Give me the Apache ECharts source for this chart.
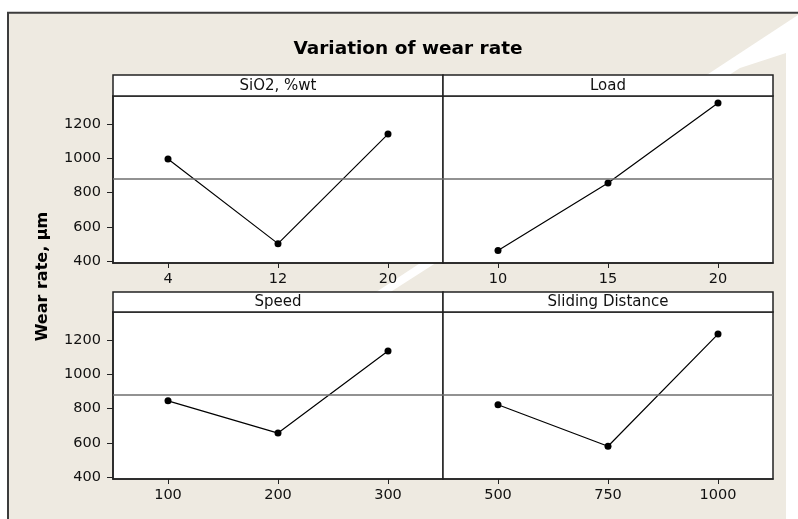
<!DOCTYPE html>
<html><head><meta charset="utf-8">
<script src="https://cdn.jsdelivr.net/npm/echarts@6/dist/echarts.min.js"></script>
<style>html,body{margin:0;padding:0;background:#fff}#c{width:798px;height:519px}</style>
</head><body><div id="c"></div>
<script>
// ---- data ----
const chartTitle = 'Variation of wear rate';
const yAxisTitle = 'Wear rate, µm';
const factorNames = ['SiO2, %wt', 'Load', 'Speed', 'Sliding Distance'];
const sio2Levels = ['4', '12', '20'];
const sio2Means = [996, 502, 1141];
const loadLevels = ['10', '15', '20'];
const loadMeans = [462, 856, 1322];
const speedLevels = ['100', '200', '300'];
const speedMeans = [845, 657, 1136];
const distLevels = ['500', '750', '1000'];
const distMeans = [822, 580, 1234];
const yTicks = [400, 600, 800, 1000, 1200];
const yMin = 389, yMax = 1363;

const levelsList = [sio2Levels, loadLevels, speedLevels, distLevels];
const meansList = [sio2Means, loadMeans, speedMeans, distMeans];
const allVals = [].concat(sio2Means, loadMeans, speedMeans, distMeans);
const grandMean = allVals.reduce((a, b) => a + b, 0) / allVals.length;

// ---- layout ----
const FONT = '"DejaVu Sans", Verdana, sans-serif';
const panels = [
  { left: 113, top: 96, hTop: 75 },
  { left: 443, top: 96, hTop: 75 },
  { left: 113, top: 312, hTop: 292 },
  { left: 443, top: 312, hTop: 292 }
];
const PW = 330, PH = 167;
const beige = '#EEEAE1';

const grids = [], xAxes = [], yAxes = [], series = [], graphics = [];

// background
graphics.push({ type: 'rect', z: -10, shape: { x: 8, y: 13, width: 790, height: 506 }, style: { fill: beige } });
graphics.push({ type: 'rect', z: -9, shape: { x: 786, y: 53, width: 12, height: 466 }, style: { fill: '#ffffff' } });
graphics.push({ type: 'polygon', z: -9, shape: { points: [[798, 15], [798, 53], [786, 53], [740, 68], [378, 300], [364, 300]] }, style: { fill: '#ffffff' } });
graphics.push({ type: 'line', z: 5, shape: { x1: 7, y1: 12.8, x2: 798, y2: 12.8 }, style: { stroke: '#3c3c3c', lineWidth: 2 } });
graphics.push({ type: 'line', z: 5, shape: { x1: 8, y1: 12, x2: 8, y2: 519 }, style: { stroke: '#3c3c3c', lineWidth: 2 } });

// title
graphics.push({ type: 'text', z: 5, x: 408, y: 49.5, style: { text: chartTitle, font: 'bold 18.5px ' + FONT, fill: '#000', textAlign: 'center', textVerticalAlign: 'middle', align: 'center', verticalAlign: 'middle' } });
// y title
graphics.push({ type: 'text', z: 5, x: 43, y: 276.5, rotation: Math.PI / 2, style: { text: yAxisTitle, font: 'bold 16px ' + FONT, fill: '#000', textAlign: 'center', textVerticalAlign: 'middle', align: 'center', verticalAlign: 'middle' } });

panels.forEach((p, i) => {
  const hH = p.top - p.hTop;
  graphics.push({ type: 'rect', z: 5, shape: { x: p.left, y: p.hTop, width: PW, height: hH }, style: { fill: '#ffffff', stroke: '#222', lineWidth: 1.5 } });
  graphics.push({ type: 'text', z: 6, x: p.left + PW / 2, y: p.hTop + hH / 2 + 0.5, style: { text: factorNames[i], font: '15px ' + FONT, fill: '#111', textAlign: 'center', textVerticalAlign: 'middle', align: 'center', verticalAlign: 'middle' } });

  grids.push({ left: p.left, top: p.top, width: PW, height: PH, show: true, backgroundColor: '#ffffff', borderColor: '#222', borderWidth: 1.5, containLabel: false });
  xAxes.push({
    type: 'category', gridIndex: i, data: levelsList[i], boundaryGap: true,
    axisLine: { show: true, lineStyle: { color: '#222', width: 1.5 } },
    axisTick: { show: true, alignWithLabel: true, length: 5, lineStyle: { color: '#222', width: 1 } },
    axisLabel: { show: true, fontSize: 14.5, fontFamily: FONT, color: '#111', margin: 9 },
    splitLine: { show: false }
  });
  const isLeft = (i % 2 === 0);
  yAxes.push({
    type: 'value', gridIndex: i, min: yMin, max: yMax,
    axisLine: { show: isLeft, lineStyle: { color: '#222', width: 1.5 } },
    axisTick: { show: isLeft, length: 6, customValues: yTicks, lineStyle: { color: '#222', width: 1 } },
    axisLabel: { show: isLeft, customValues: yTicks, formatter: v => String(v), fontSize: 14.5, fontFamily: FONT, color: '#111', margin: 12 },
    splitLine: { show: false }
  });
  series.push({
    type: 'line', xAxisIndex: i, yAxisIndex: i, data: meansList[i],
    symbol: 'circle', symbolSize: 7, showSymbol: true,
    itemStyle: { color: '#000' },
    lineStyle: { color: '#000', width: 1.2 },
    silent: true, z: 3,
    markLine: {
      silent: true, symbol: ['none', 'none'], label: { show: false },
      lineStyle: { color: '#6e6e6e', width: 1.5, type: 'solid' },
      data: [{ yAxis: grandMean }], animation: false
    }
  });
});

const chart = echarts.init(document.getElementById('c'), null, { renderer: 'canvas' });
chart.setOption({
  animation: false,
  backgroundColor: '#ffffff',
  grid: grids, xAxis: xAxes, yAxis: yAxes, series: series,
  graphic: { elements: graphics }
});
</script></body></html>
